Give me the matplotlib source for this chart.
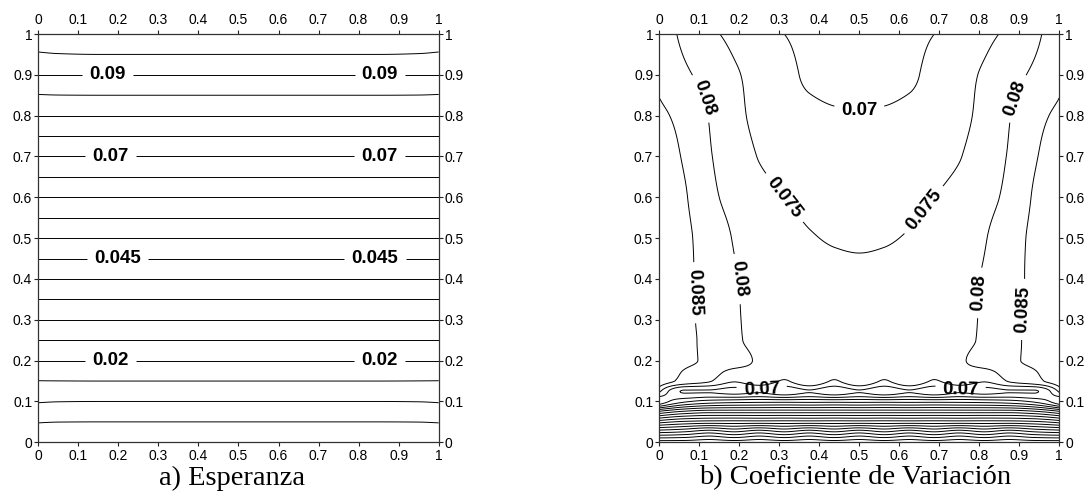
import numpy as np
import matplotlib
matplotlib.use("Agg")
import matplotlib.pyplot as plt
from matplotlib.ticker import FuncFormatter

# ---------------- data ----------------
# a) Esperanza : expected value on the unit square
esp_x = [0.0, 0.05, 0.15, 0.5, 0.85, 0.95, 1.0]
esp_y = [0.0, 0.05, 0.10, 0.15, 0.20, 0.25, 0.30, 0.35, 0.40, 0.45, 0.50,
         0.55, 0.60, 0.65, 0.70, 0.75, 0.80, 0.85, 0.90, 0.95, 1.00]
esp_z = [
    [0.0000, 0.0000, 0.0000, 0.0000, 0.0000, 0.0000, 0.0000],
    [0.00525, 0.00505, 0.0050, 0.0050, 0.0050, 0.00505, 0.00525],
    [0.0103, 0.01008, 0.0100, 0.0100, 0.0100, 0.01008, 0.0103],
    [0.01492, 0.01496, 0.0150, 0.0150, 0.0150, 0.01496, 0.01492],
    [0.0200, 0.0200, 0.0200, 0.0200, 0.0200, 0.0200, 0.0200],
    [0.0250, 0.0250, 0.0250, 0.0250, 0.0250, 0.0250, 0.0250],
    [0.0300, 0.0300, 0.0300, 0.0300, 0.0300, 0.0300, 0.0300],
    [0.0350, 0.0350, 0.0350, 0.0350, 0.0350, 0.0350, 0.0350],
    [0.0400, 0.0400, 0.0400, 0.0400, 0.0400, 0.0400, 0.0400],
    [0.0450, 0.0450, 0.0450, 0.0450, 0.0450, 0.0450, 0.0450],
    [0.0500, 0.0500, 0.0500, 0.0500, 0.0500, 0.0500, 0.0500],
    [0.0550, 0.0550, 0.0550, 0.0550, 0.0550, 0.0550, 0.0550],
    [0.0600, 0.0600, 0.0600, 0.0600, 0.0600, 0.0600, 0.0600],
    [0.0650, 0.0650, 0.0650, 0.0650, 0.0650, 0.0650, 0.0650],
    [0.0700, 0.0700, 0.0700, 0.0700, 0.0700, 0.0700, 0.0700],
    [0.0750, 0.0750, 0.0750, 0.0750, 0.0750, 0.0750, 0.0750],
    [0.0800, 0.0800, 0.0800, 0.0800, 0.0800, 0.0800, 0.0800],
    [0.0848, 0.08495, 0.0850, 0.0850, 0.0850, 0.08495, 0.0848],
    [0.0900, 0.0900, 0.0900, 0.0900, 0.0900, 0.0900, 0.0900],
    [0.0944, 0.0948, 0.0950, 0.0950, 0.0950, 0.0948, 0.0944],
    [0.1000, 0.1000, 0.1000, 0.1000, 0.1000, 0.1000, 0.1000],
]
esp_levels = [0.005, 0.01, 0.015, 0.02, 0.025, 0.03, 0.035, 0.04, 0.045, 0.05,
              0.055, 0.06, 0.065, 0.07, 0.075, 0.08, 0.085, 0.09, 0.095]
esp_labels = {
    0.09: [(0.173, 0.9), (0.853, 0.9)],
    0.07: [(0.181, 0.7), (0.853, 0.7)],
    0.045: [(0.198, 0.45), (0.841, 0.45)],
    0.02: [(0.181, 0.2), (0.853, 0.2)],
}

# b) Coeficiente de Variacion
cv_x = [0.0, 0.0625, 0.125, 0.1875, 0.25, 0.3125, 0.375, 0.4375, 0.5,
        0.5625, 0.625, 0.6875, 0.75, 0.8125, 0.875, 0.9375, 1.0]
cv_y = [0.0, 0.025, 0.05, 0.075, 0.10, 0.125, 0.15, 0.175, 0.20, 0.25, 0.30,
        0.40, 0.50, 0.60, 0.70, 0.80, 0.90, 1.00]
cv_z = [
    [0.1580, 0.1580, 0.1585, 0.1580, 0.1585, 0.1580, 0.1585, 0.1580, 0.1585, 0.1580, 0.1585, 0.1580, 0.1585, 0.1580, 0.1585, 0.1580, 0.1580],
    [0.1390, 0.1405, 0.1435, 0.1405, 0.1435, 0.1405, 0.1435, 0.1405, 0.1435, 0.1405, 0.1435, 0.1405, 0.1435, 0.1405, 0.1435, 0.1405, 0.1390],
    [0.1180, 0.1210, 0.1220, 0.1220, 0.1220, 0.1220, 0.1220, 0.1220, 0.1220, 0.1220, 0.1220, 0.1220, 0.1220, 0.1220, 0.1220, 0.1210, 0.1180],
    [0.0960, 0.1010, 0.1030, 0.1030, 0.1030, 0.1030, 0.1030, 0.1030, 0.1030, 0.1030, 0.1030, 0.1030, 0.1030, 0.1030, 0.1030, 0.1010, 0.0960],
    [0.0715, 0.0790, 0.0820, 0.0830, 0.0835, 0.0835, 0.0835, 0.0835, 0.0835, 0.0835, 0.0835, 0.0835, 0.0835, 0.0830, 0.0820, 0.0790, 0.0715],
    [0.0810, 0.0695, 0.0695, 0.0680, 0.0695, 0.0665, 0.0695, 0.0665, 0.0695, 0.0665, 0.0695, 0.0665, 0.0695, 0.0680, 0.0695, 0.0695, 0.0810],
    [0.0880, 0.0835, 0.0805, 0.0755, 0.0785, 0.0745, 0.0795, 0.0745, 0.0795, 0.0745, 0.0795, 0.0745, 0.0785, 0.0755, 0.0805, 0.0835, 0.0880],
    [0.0878, 0.0848, 0.0825, 0.0792, 0.0790, 0.0770, 0.0785, 0.0770, 0.0782, 0.0770, 0.0785, 0.0770, 0.0790, 0.0792, 0.0825, 0.0848, 0.0878],
    [0.0870, 0.0860, 0.0840, 0.0818, 0.0795, 0.0785, 0.0780, 0.0776, 0.0775, 0.0776, 0.0780, 0.0785, 0.0795, 0.0818, 0.0840, 0.0860, 0.0870],
    [0.0890, 0.0860, 0.0840, 0.0807, 0.0790, 0.0782, 0.0775, 0.0770, 0.0768, 0.0770, 0.0775, 0.0782, 0.0790, 0.0807, 0.0840, 0.0860, 0.0890],
    [0.0893, 0.0860, 0.0838, 0.0805, 0.0790, 0.0780, 0.0772, 0.0767, 0.0765, 0.0767, 0.0772, 0.0780, 0.0790, 0.0805, 0.0838, 0.0860, 0.0893],
    [0.0892, 0.0858, 0.0838, 0.0803, 0.0790, 0.0777, 0.0767, 0.0760, 0.0758, 0.0760, 0.0767, 0.0777, 0.0790, 0.0803, 0.0838, 0.0858, 0.0892],
    [0.0890, 0.0860, 0.0830, 0.0797, 0.0777, 0.0765, 0.0753, 0.0747, 0.0745, 0.0747, 0.0753, 0.0765, 0.0777, 0.0797, 0.0830, 0.0860, 0.0890],
    [0.0885, 0.0855, 0.0812, 0.0785, 0.0765, 0.0750, 0.0740, 0.0735, 0.0733, 0.0735, 0.0740, 0.0750, 0.0765, 0.0785, 0.0812, 0.0855, 0.0885],
    [0.0875, 0.0845, 0.0804, 0.0775, 0.0748, 0.0735, 0.0727, 0.0722, 0.0720, 0.0722, 0.0727, 0.0735, 0.0748, 0.0775, 0.0804, 0.0845, 0.0875],
    [0.0858, 0.0835, 0.0798, 0.0762, 0.0740, 0.0728, 0.0715, 0.0706, 0.0703, 0.0706, 0.0715, 0.0728, 0.0740, 0.0762, 0.0798, 0.0835, 0.0858],
    [0.0840, 0.0808, 0.0784, 0.0755, 0.0738, 0.0718, 0.0690, 0.0680, 0.0677, 0.0680, 0.0690, 0.0718, 0.0738, 0.0755, 0.0784, 0.0808, 0.0840],
    [0.0825, 0.0790, 0.0760, 0.0738, 0.0720, 0.0700, 0.0685, 0.0675, 0.0670, 0.0675, 0.0685, 0.0700, 0.0720, 0.0738, 0.0760, 0.0790, 0.0825],
]
cv_levels = [0.065, 0.07, 0.075, 0.08, 0.085, 0.09, 0.095, 0.1, 0.105, 0.11,
             0.115, 0.12, 0.125, 0.13, 0.135, 0.14, 0.145, 0.15, 0.155]
cv_labels = {
    0.07: [(0.5, 0.815), (0.256, 0.13), (0.753, 0.13)],
    0.075: [(0.314, 0.60), (0.66, 0.57)],
    0.08: [(0.10, 0.84), (0.90, 0.84), (0.198, 0.40), (0.80, 0.366)],
    0.085: [(0.083, 0.366), (0.918, 0.325)],
}

titles = ["a) Esperanza", "b) Coeficiente de Variación"]
tick_values = [0, 0.1, 0.2, 0.3, 0.4, 0.5, 0.6, 0.7, 0.8, 0.9, 1.0]


# ---------------- helpers ----------------
def _pchip_slopes(h, delta):
    n = len(h) + 1
    d = np.zeros((n,) + delta.shape[1:])
    for k in range(1, n - 1):
        w1 = 2 * h[k] + h[k - 1]
        w2 = h[k] + 2 * h[k - 1]
        a, b = delta[k - 1], delta[k]
        same = (a * b) > 0
        with np.errstate(divide="ignore", invalid="ignore"):
            hm = (w1 + w2) / (w1 / a + w2 / b)
        d[k] = np.where(same, hm, 0.0)
    for k0, k1, hh0, hh1 in ((0, 1, h[0], h[1]), (-1, -2, h[-1], h[-2])):
        d0 = ((2 * hh0 + hh1) * delta[k0] - hh0 * delta[k1]) / (hh0 + hh1)
        d0 = np.where(np.sign(d0) != np.sign(delta[k0]), 0.0, d0)
        flip = (np.sign(delta[k0]) != np.sign(delta[k1])) & (np.abs(d0) > 3 * np.abs(delta[k0]))
        d0 = np.where(flip, 3 * delta[k0], d0)
        d[k0 if k0 == 0 else n - 1] = d0
    return d


def pchip_axis0(xk, yk, xn):
    """Shape preserving (no overshoot) cubic interpolation along axis 0."""
    xk = np.asarray(xk, float)
    yk = np.asarray(yk, float)
    h = np.diff(xk)
    delta = np.diff(yk, axis=0) / h.reshape((-1,) + (1,) * (yk.ndim - 1))
    d = _pchip_slopes(h, delta)
    idx = np.clip(np.searchsorted(xk, xn, side="right") - 1, 0, len(xk) - 2)
    hh = h[idx].reshape((-1,) + (1,) * (yk.ndim - 1))
    t = ((xn - xk[idx]) / h[idx]).reshape(hh.shape)
    h00 = 2 * t**3 - 3 * t**2 + 1
    h10 = t**3 - 2 * t**2 + t
    h01 = -2 * t**3 + 3 * t**2
    h11 = t**3 - t**2
    return h00 * yk[idx] + h10 * hh * d[idx] + h01 * yk[idx + 1] + h11 * hh * d[idx + 1]


def smooth_field(xs, ys, zs, n=401):
    xf = np.linspace(0, 1, n)
    yf = np.linspace(0, 1, n)
    z = np.asarray(zs, float)               # shape (len(ys), len(xs))
    zy = pchip_axis0(ys, z, yf)             # (n, len(xs))
    zxy = pchip_axis0(xs, zy.T, xf).T       # (n, n)
    return xf, yf, zxy


def draw_contours(ax, xf, yf, z, levels, labels):
    plain = [lv for lv in levels if lv not in labels]
    ax.contour(xf, yf, z, levels=plain, colors="black", linewidths=0.7)
    for lev, pos in labels.items():
        cs = ax.contour(xf, yf, z, levels=[lev], colors="black", linewidths=0.7)
        txts = ax.clabel(cs, manual=pos, fmt="%g", inline=True,
                         inline_spacing=7, fontsize=13.5)
        for t in txts:
            t.set_fontweight("bold")


def style_axes(ax):
    ax.set_xlim(0, 1)
    ax.set_ylim(0, 1)
    ax.set_xticks(tick_values)
    ax.set_yticks(tick_values)
    fmt = FuncFormatter(lambda v, p: "%g" % round(v, 2))
    ax.xaxis.set_major_formatter(fmt)
    ax.yaxis.set_major_formatter(fmt)
    ax.tick_params(which="both", direction="out", top=True, right=True,
                   labeltop=True, labelright=True, length=3.2, width=0.8,
                   labelsize=10, colors="#222222", labelcolor="black")
    ax.tick_params(axis="x", pad=1.5)
    ax.tick_params(axis="y", pad=1.2)
    for sp in ax.spines.values():
        sp.set_linewidth(0.9)
        sp.set_color("#333333")


plt.rcParams["font.family"] = ["Liberation Sans", "DejaVu Sans"]

W, H = 1086, 497
fig = plt.figure(figsize=(W / 100, H / 100), dpi=100)
ax1 = fig.add_axes([38.3 / W, 1 - 442.3 / H, 400.4 / W, 408.3 / H])
ax2 = fig.add_axes([659.3 / W, 1 - 442.3 / H, 400.0 / W, 408.3 / H])
for ax in (ax1, ax2):
    ax.set_xlim(0, 1)
    ax.set_ylim(0, 1)

xf1, yf1, z1 = smooth_field(esp_x, esp_y, esp_z)
draw_contours(ax1, xf1, yf1, z1, esp_levels, esp_labels)
style_axes(ax1)

xf2, yf2, z2 = smooth_field(cv_x, cv_y, cv_z)
draw_contours(ax2, xf2, yf2, z2, cv_levels, cv_labels)
style_axes(ax2)

fig.text(232 / W, 1 - 478 / H, titles[0], ha="center", va="center",
         fontsize=20.5, family=["Liberation Serif", "DejaVu Serif"])
fig.text(855 / W, 1 - 478 / H, titles[1], ha="center", va="center",
         fontsize=20.5, family=["Liberation Serif", "DejaVu Serif"])

fig.savefig("out.png", dpi=100)
